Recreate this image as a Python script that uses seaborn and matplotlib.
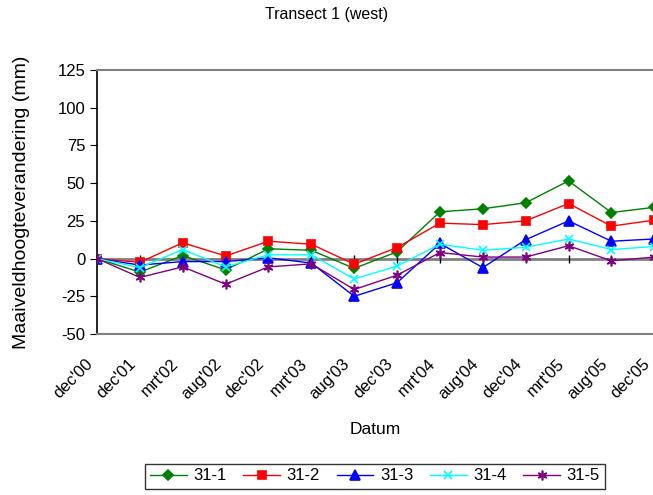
import matplotlib
matplotlib.use("Agg")
import matplotlib.pyplot as plt
import matplotlib.transforms as mtransforms
import seaborn as sns
import pandas as pd
import numpy as np

categories = ["dec'00", "dec'01", "mrt'02", "aug'02", "dec'02", "mrt'03", "aug'03",
              "dec'03", "mrt'04", "aug'04", "dec'04", "mrt'05", "aug'05", "dec'05"]
s31_1 = [0, -9, 2, -7.5, 6.5, 5.5, -6.5, 4.5, 31, 33, 37, 51.5, 30.5, 34]
s31_2 = [0, -2.5, 10.5, 1.7, 11.5, 9.5, -3.7, 7.3, 23.5, 22.5, 25, 36.5, 21.5, 25.5]
s31_3 = [0, -4.3, -2, -2, 0.5, -3, -25, -16, 10, -6, 12.5, 25, 11.5, 13]
s31_4 = [0, -6, 6, -5.5, 2.5, 2.5, -13.5, -5, 9.5, 5.5, 7.5, 13, 6, 8]
s31_5 = [0, -12.5, -5.5, -17, -5.5, -3.5, -20.5, -11, 4, 1, 1, 8.5, -1.5, 1]
series_names = ["31-1", "31-2", "31-3", "31-4", "31-5"]
y_ticks = [-50, -25, 0, 25, 50, 75, 100, 125]

colors = ["#008000", "#FF0000", "#0000FF", "#00FFFF", "#800080"]
markers = ["D", "s", "^", "x", (6, 2, 0)]
msizes = [5, 5.5, 6.5, 6, 7]

plt.rcParams['font.family'] = ['Liberation Sans', 'DejaVu Sans']
fig = plt.figure(figsize=(6.53, 4.95), dpi=100)
ax = fig.add_axes([97/653, 1 - 334/495, 1 - 97/653 + 0.002, (334 - 70)/495])

x = np.arange(len(categories))
ax.axhline(0, color="#808080", lw=2, zorder=1)
ax.plot(x, np.zeros(len(x)), ls="none", marker="|", color="black", ms=6, mew=1, zorder=1)

all_series = [s31_1, s31_2, s31_3, s31_4, s31_5]
for name, vals, c, m, ms in zip(series_names, all_series, colors, markers, msizes):
    df = pd.DataFrame({"x": x, "y": vals})
    sns.lineplot(data=df, x="x", y="y", ax=ax, color=c, marker=m, markersize=ms,
                 markeredgecolor=c, markerfacecolor=c, mew=1.2, lw=1, label=name,
                 sort=False, zorder=3)

ax.set_xlim(0, len(categories) - 1)
ax.set_ylim(-50, 125)
ax.set_yticks(y_ticks)
ax.set_yticklabels([str(v) for v in y_ticks], fontsize=12)
ax.set_xticks(x)
ax.set_xticklabels(categories, rotation=45, ha="right", rotation_mode="anchor", fontsize=12)
ax.tick_params(axis="x", length=0, pad=16)
ax.tick_params(axis="y", length=5, direction="out", color="black")
offset = mtransforms.ScaledTranslation(-12/100, 0, fig.dpi_scale_trans)
for lab in ax.get_xticklabels():
    lab.set_transform(lab.get_transform() + offset)

for side in ["top", "bottom"]:
    ax.spines[side].set_color("#808080")
    ax.spines[side].set_linewidth(1.5)
ax.spines["left"].set_color("black")
ax.spines["left"].set_linewidth(1.2)
ax.spines["right"].set_visible(False)

ax.set_ylabel("Maaiveldhoogteverandering (mm)", fontsize=14, labelpad=20)
ax.set_xlabel("Datum", fontsize=12.5, labelpad=14)
fig.text(327/653, 1 - 15/495, "Transect 1 (west)", ha="center", va="center", fontsize=11.5)

ax.get_legend().remove()
handles, labels = ax.get_legend_handles_labels()
leg = fig.legend(handles[:5], labels[:5], loc="center", bbox_to_anchor=(375/653, 1 - 476/495),
                 ncol=5, fontsize=12, frameon=True, fancybox=False, edgecolor="black",
                 handlelength=2.2, handletextpad=0.4, columnspacing=1.0, borderpad=0.3)
leg.get_frame().set_linewidth(1)

fig.savefig("out.png", dpi=100)
